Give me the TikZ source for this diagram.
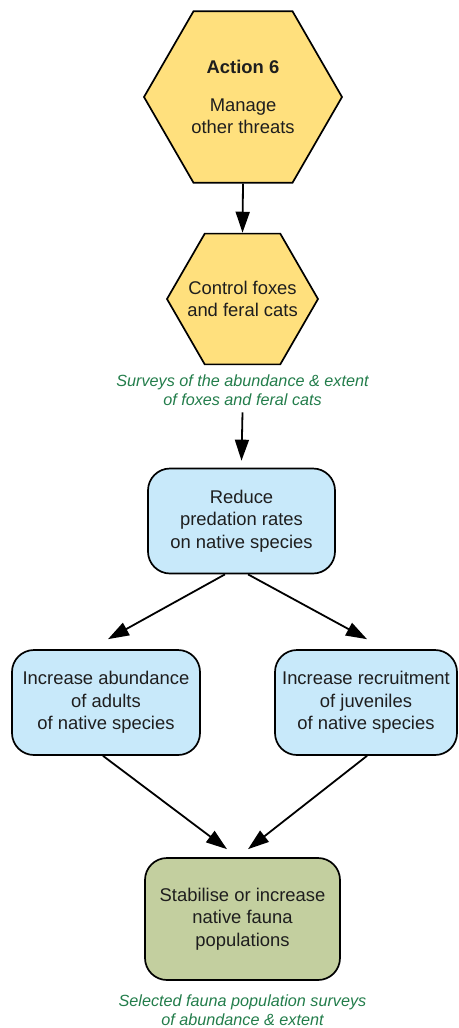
\documentclass[tikz,border=0pt]{standalone}
\usepackage{fontspec}
\setmainfont{Liberation Sans}
\usetikzlibrary{shapes.geometric,arrows.meta,calc}
\definecolor{hexfill}{HTML}{FFE07D}
\definecolor{boxblue}{HTML}{C8E9FA}
\definecolor{boxgreen}{HTML}{C3CF9F}
\definecolor{notegreen}{HTML}{237D4B}
\definecolor{textdark}{HTML}{1E1E1E}
\begin{document}
\begin{tikzpicture}[x=1pt,y=-1pt,
  bodytext/.style={text=textdark,align=center,font=\fontsize{18.4}{22.5}\selectfont},
  base/.style={bodytext,draw=black,line width=1.7pt},
  hexnode/.style={base,regular polygon,regular polygon sides=6,inner sep=0pt,fill=hexfill},
  roundbox/.style={base,rounded corners=22pt,inner sep=0pt,minimum height=105pt},
  bluebox/.style={roundbox,fill=boxblue},
  greenbox/.style={roundbox,fill=boxgreen},
  note/.style={text=notegreen,align=center,inner sep=0pt,
    font=\fontsize{16.2}{18.5}\selectfont\itshape},
  link/.style={line width=1.8pt,-{Triangle[length=21pt,width=14pt]}}]

\useasboundingbox (0,0) rectangle (458,1028);

% hexagonal action nodes, text placed as a centred label
\node[hexnode,minimum size=198pt,
  label={[bodytext]center:{\textbf{Action 6}\\[15pt]Manage\\other threats}}]
  (action) at (243,97) {};
\node[hexnode,minimum size=151pt,
  label={[bodytext]center:{Control foxes\\and feral cats}}]
  (control) at (242.5,299) {};
\node[note] (survey1) at (242.5,390)
  {Surveys of the abundance \& extent\\of foxes and feral cats};

% outcome boxes
\node[bluebox,minimum width=187pt] (reduce) at (241.5,521)
  {Reduce\\predation rates\\on native species};
\node[bluebox,minimum width=188pt] (adults) at (106,702.5)
  {Increase abundance\\of adults\\of native species};
\node[bluebox,minimum width=182pt] (juveniles) at (366,702.5)
  {Increase recruitment\\of juveniles\\of native species};
\node[greenbox,minimum width=195pt,minimum height=122pt] (stabilise) at (242.5,919)
  {Stabilise or increase\\native fauna\\populations};
\node[note] (survey2) at (242.5,1010)
  {Selected fauna population surveys\\of abundance \& extent};

% connectors
\draw[link] (action.south) -- (control.north);
\draw[link] ($(survey1.south)+(0,7)$) -- ($(reduce.north)+(0,-7)$);
\draw[link] ($(reduce.south)+(-16.5,0)$) -- ($(adults.north)+(2,-10)$);
\draw[link] ($(reduce.south)+(6.5,0)$) -- ($(juveniles.north)+(1,-10)$);
\draw[link] ($(adults.south)+(-3,0)$) -- ($(stabilise.north)+(-15.5,-8)$);
\draw[link] ($(juveniles.south)+(1,0)$) -- ($(stabilise.north)+(5.5,-8)$);
\end{tikzpicture}
\end{document}
